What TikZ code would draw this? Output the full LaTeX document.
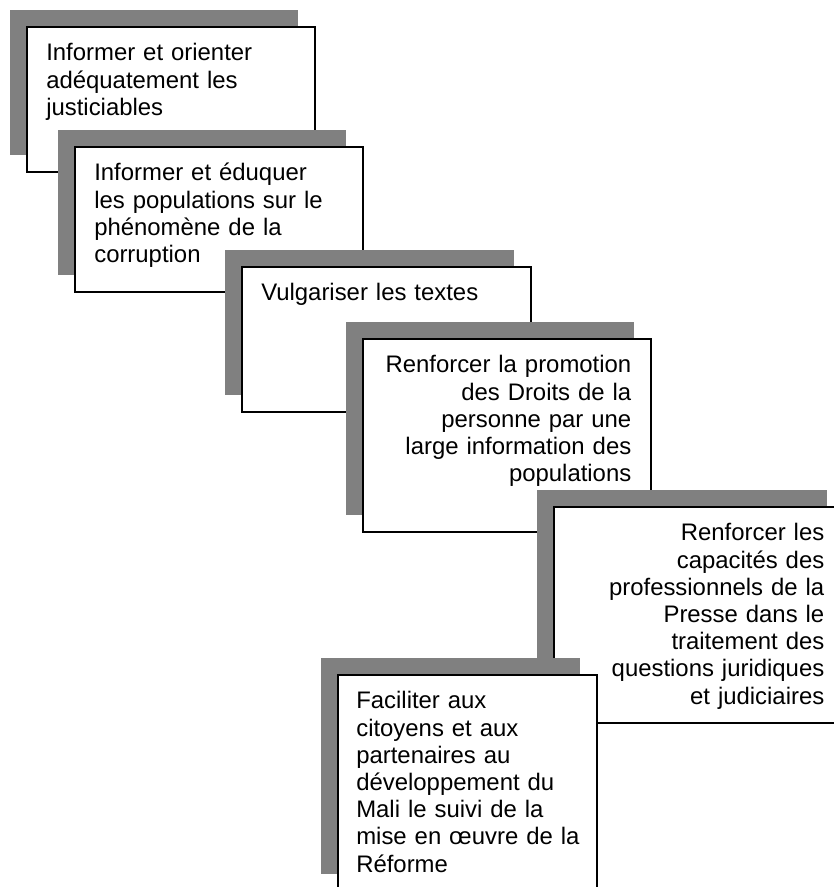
\documentclass[tikz,border=0pt]{standalone}
\usepackage{fontspec}
\setmainfont{Liberation Sans}
\usepackage{tikz}
\usetikzlibrary{positioning,shadows}
\definecolor{shadowgray}{rgb}{0.5, 0.5, 0.5}

\begin{document}
\begin{tikzpicture}[x=1pt,y=-1pt,
	stepbox/.style={draw,fill=white,line width=1.6pt,anchor=north west,inner xsep=19.5pt,inner ysep=0pt,text height=34pt,font=\fontsize{23.9}{27.2}\selectfont,drop shadow={shadow xshift=-16.5pt,shadow yshift=16.5pt,fill=shadowgray,opacity=1}}]
	%\draw[help lines] (0,0) grid (834,887);
	\useasboundingbox (0,0) rectangle (834,887);
	\clip (0,0) rectangle (834,887);
	
	\node[stepbox,align=left,text width=249pt,text depth=111pt] (A) at (26,26){Informer et orienter\\adéquatement les\\justiciables};
	
	\node[stepbox,align=left,text width=249pt,text depth=111pt] (B) at (74,146){Informer et éduquer\\les populations sur le\\phénomène de la\\corruption};
	
	\node[stepbox,align=left,text width=250pt,text depth=111pt] (C) at (241,266){Vulgariser les textes};
	
	\node[stepbox,align=right,text width=249pt,text depth=159pt] (D) at (362,338){Renforcer la promotion\\des Droits de la\\personne par une\\large information des\\populations};
	
	\node[stepbox,align=right,text width=251pt,text depth=182pt] (E) at (553,506){Renforcer les\\capacités des\\professionnels de la\\Presse dans le\\traitement des\\questions juridiques\\et judiciaires};
	
	\node[stepbox,align=left,inner xsep=18.5pt,text width=222pt,text depth=182pt] (F) at (337,674){Faciliter aux\\citoyens et aux\\partenaires au\\développement du\\Mali le suivi de la\\\mbox{mise en œuvre de la}\\Réforme};
	
\end{tikzpicture}
\end{document}
